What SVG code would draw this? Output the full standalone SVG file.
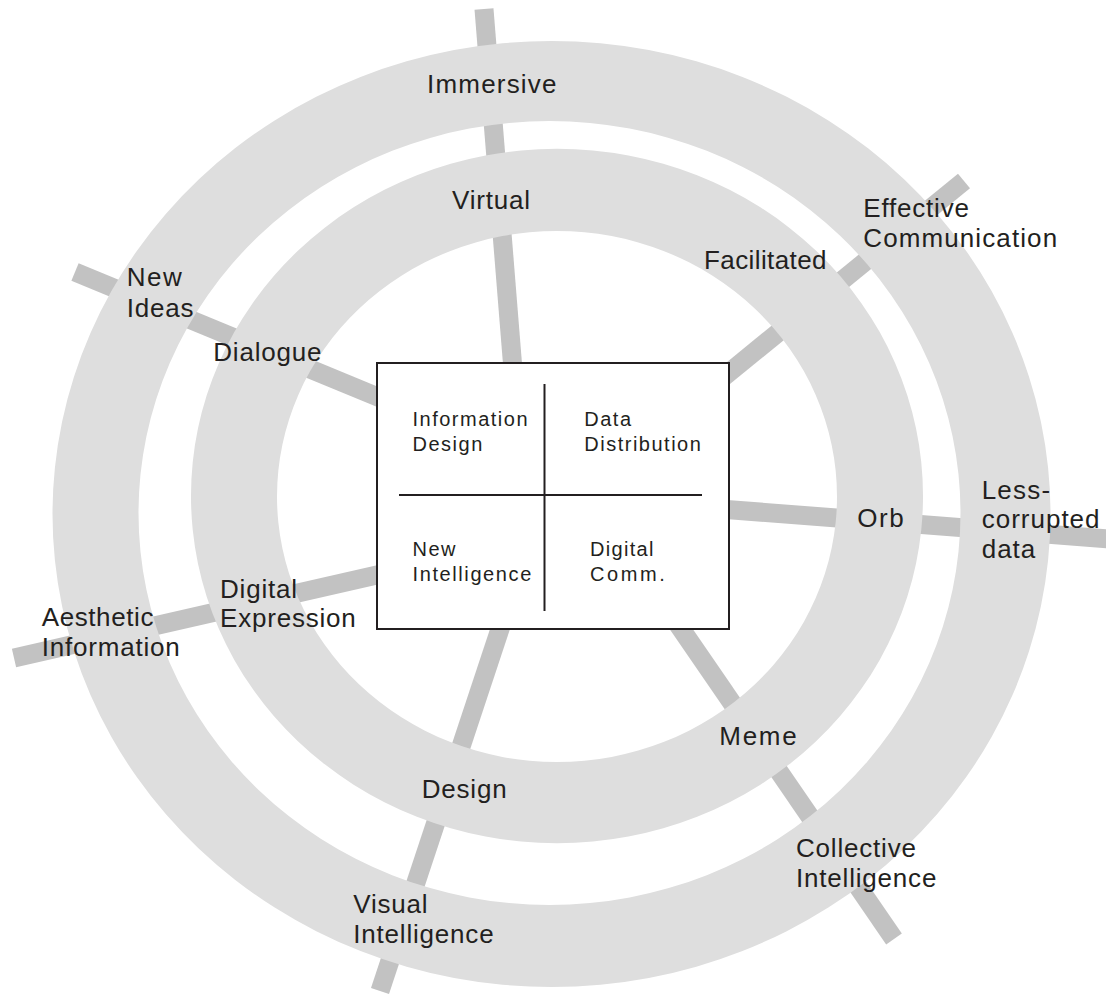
<svg xmlns="http://www.w3.org/2000/svg" width="1106" height="995" viewBox="0 0 1106 995">
<style>
.ring{fill:#dedede;fill-rule:evenodd;stroke:none}
.spoke{stroke:#c2c2c2;stroke-width:19;stroke-linecap:butt;fill:none}
.lbl{font-family:"Liberation Sans",Arial,sans-serif;font-size:26px;letter-spacing:0.8px;fill:#231f20}
.blbl{font-family:"Liberation Sans",Arial,sans-serif;font-size:20px;letter-spacing:1.5px;fill:#231f20}
.box{fill:#ffffff;stroke:#231f20;stroke-width:2}
.div{stroke:#231f20;stroke-width:2}
</style>
<rect x="0" y="0" width="1106" height="995" fill="#ffffff"/>
<g id="connectors">
<line class="spoke" x1="484" y1="9" x2="513" y2="370"/>
<line class="spoke" x1="964" y1="181" x2="720" y2="380"/>
<line class="spoke" x1="75" y1="272" x2="390" y2="402"/>
<line class="spoke" x1="14" y1="658" x2="390" y2="572"/>
<line class="spoke" x1="380" y1="991" x2="503" y2="620"/>
<line class="spoke" x1="894" y1="939" x2="675" y2="620"/>
<line class="spoke" x1="720" y1="509" x2="1110" y2="539"/>
</g>
<g id="rings">
<path id="outer-ring" class="ring" d="M 52.5 514 A 499 473 0 1 0 1050.5 514 A 499 473 0 1 0 52.5 514 Z M 138.5 513 A 411 392 0 1 0 960.5 513 A 411 392 0 1 0 138.5 513 Z"/>
<path id="inner-ring" class="ring" d="M 191 496 A 366 347 0 1 0 923 496 A 366 347 0 1 0 191 496 Z M 277 496.5 A 280 265.5 0 1 0 837 496.5 A 280 265.5 0 1 0 277 496.5 Z"/>
</g>
<g id="center-box">
<rect class="box" x="377" y="363" width="352" height="266"/>
<line class="div" x1="544.5" y1="384" x2="544.5" y2="611"/>
<line class="div" x1="399" y1="495" x2="702" y2="495"/>
<text class="blbl" x="412.5" y="425.7">Information</text>
<text class="blbl" x="412.5" y="450.7">Design</text>
<text class="blbl" x="584.3" y="425.7">Data</text>
<text class="blbl" x="584.3" y="450.7">Distribution</text>
<text class="blbl" x="412.5" y="555.7">New</text>
<text class="blbl" x="412.5" y="580.7" style="letter-spacing:1.6px">Intelligence</text>
<text class="blbl" x="590" y="555.7" style="letter-spacing:1.3px">Digital</text>
<text class="blbl" x="590" y="580.7" style="letter-spacing:2.6px">Comm.</text>
</g>
<g id="node-immersive"><text class="lbl" x="427" y="93" style="letter-spacing:1.2px">Immersive</text></g>
<g id="node-virtual"><text class="lbl" x="452" y="209">Virtual</text></g>
<g id="node-facilitated"><text class="lbl" x="704" y="269" style="letter-spacing:0.4px">Facilitated</text></g>
<g id="node-effective-communication"><text class="lbl" x="863.3" y="216.7"><tspan x="863.3" y="216.7">Effective</tspan><tspan x="863.3" y="246.7" style="letter-spacing:1.1px">Communication</tspan></text></g>
<g id="node-new-ideas"><text class="lbl" x="126.7" y="286"><tspan x="126.7" y="286" style="letter-spacing:1.5px">New</tspan><tspan x="126.7" y="316.7">Ideas</tspan></text></g>
<g id="node-dialogue"><text class="lbl" x="213.3" y="361">Dialogue</text></g>
<g id="node-digital-expression"><text class="lbl" x="220" y="598.3"><tspan x="220" y="598.3">Digital</tspan><tspan x="220" y="627">Expression</tspan></text></g>
<g id="node-aesthetic-information"><text class="lbl" x="41.7" y="626.3"><tspan x="41.7" y="626.3" style="letter-spacing:0.6px">Aesthetic</tspan><tspan x="41.7" y="656.3">Information</tspan></text></g>
<g id="node-orb"><text class="lbl" x="857.3" y="527.3" style="letter-spacing:1.5px">Orb</text></g>
<g id="node-less-corrupted-data"><text class="lbl" x="981.7" y="499.3"><tspan x="981.7" y="499.3" style="letter-spacing:1.2px">Less-</tspan><tspan x="981.7" y="528.3" style="letter-spacing:1px">corrupted</tspan><tspan x="981.7" y="558.3" style="letter-spacing:1px">data</tspan></text></g>
<g id="node-meme"><text class="lbl" x="719.3" y="745" style="letter-spacing:1.7px">Meme</text></g>
<g id="node-collective-intelligence"><text class="lbl" x="796" y="856.7"><tspan x="796" y="856.7">Collective</tspan><tspan x="796" y="886.7">Intelligence</tspan></text></g>
<g id="node-design"><text class="lbl" x="421.7" y="798.3">Design</text></g>
<g id="node-visual-intelligence"><text class="lbl" x="353.3" y="912.7"><tspan x="353.3" y="912.7">Visual</tspan><tspan x="353.3" y="942.7">Intelligence</tspan></text></g>
</svg>
